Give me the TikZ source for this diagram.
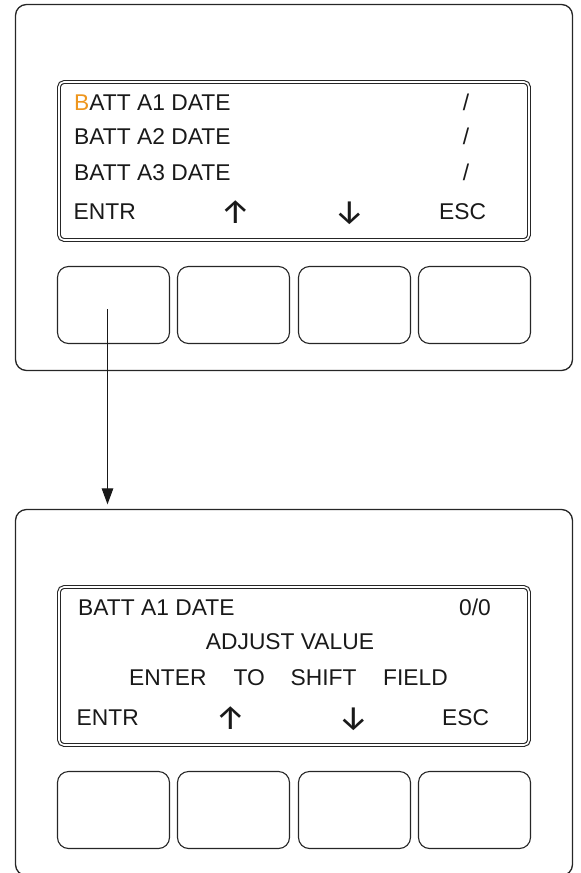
\documentclass[tikz,border=0pt]{standalone}
\usepackage{fontspec}
\setmainfont{Liberation Sans}
\newfontfamily\arrowfont{Fira Sans}
\usetikzlibrary{positioning,arrows.meta}
\definecolor{cursor}{RGB}{238,150,30}

\begin{document}
\begin{tikzpicture}[
  x=1pt, y=-1pt,
  font=\fontsize{22.8}{27}\selectfont,
  >={Triangle[length=16pt,width=11.5pt]},
  panel/.style={draw=black!85, line width=1.3pt, rounded corners=11pt, minimum width=557pt, minimum height=366pt, inner sep=0pt},
  lcd/.style={draw=black!85, line width=1.1pt, double, double distance=1.6pt, rounded corners=5pt, minimum width=470pt, minimum height=158pt, inner sep=0pt},
  softkey/.style={draw=black!85, line width=1.1pt, rounded corners=11pt, minimum width=112pt, minimum height=77pt, inner sep=0pt},
  lcdtext/.style={anchor=base west, inner sep=0pt, text=black!90},
  lcdglyph/.style={anchor=base, inner sep=0pt, text=black!90},
  lcdarrow/.style={anchor=base, inner sep=0pt, text=black!90, font=\arrowfont\fontsize{34}{36}\selectfont},
  presswire/.style={->, draw=black!90, line width=1.1pt, shorten >=4.5pt}
]
  \clip (0,0) rectangle (581,873);
  \node[panel] (toppanel) at (294,187.5) {};
  \node[lcd] (topscreen) at (294,161) {};
  \node[softkey] (topkeyA) at (113.5,305) {};
  \node[softkey] (topkeyB) at (233.5,305) {};
  \node[softkey] (topkeyC) at (354.5,305) {};
  \node[softkey] (topkeyD) at (474.5,305) {};
  \node[lcdtext] (toprowA) at (74,110) {\textcolor{cursor}{B}ATT A1 DATE};
  \node[lcdtext] (toprowB) at (74,144) {BATT A2 DATE};
  \node[lcdtext] (toprowC) at (74,180) {BATT A3 DATE};
  \node[lcdglyph] (topslashA) at (466,110) {/};
  \node[lcdglyph] (topslashB) at (466,144) {/};
  \node[lcdglyph] (topslashC) at (466,180) {/};
  \node[lcdtext] (topentr) at (73.5,219) {ENTR};
  \node[lcdarrow] (topup) at (236,223) {↑};
  \node[lcdarrow] (topdown) at (350,223) {↓};
  \node[lcdtext] (topesc) at (439,219) {ESC};

  \node[panel] (botpanel) at (294,692.5) {};
  \node[lcd] (botscreen) at (294,666) {};
  \node[softkey] (botkeyA) at (113.5,810) {};
  \node[softkey] (botkeyB) at (233.5,810) {};
  \node[softkey] (botkeyC) at (354.5,810) {};
  \node[softkey] (botkeyD) at (474.5,810) {};
  \node[lcdtext] (botrowA) at (78,615) {BATT A1 DATE};
  \node[lcdglyph, anchor=base east] (botvalue) at (491,615) {0/0};
  \node[lcdglyph] (botadjust) at (290,649) {ADJUST VALUE};
  \node[lcdtext] (botenter) at (129,685) {ENTER};
  \node[lcdtext] (botto) at (233.5,685) {TO};
  \node[lcdtext] (botshift) at (290.5,685) {SHIFT};
  \node[lcdtext] (botfield) at (383,685) {FIELD};
  \node[lcdtext] (botentr) at (76.5,725) {ENTR};
  \node[lcdarrow] (botup) at (231,729) {↑};
  \node[lcdarrow] (botdown) at (354,729) {↓};
  \node[lcdtext] (botesc) at (442,725) {ESC};

  \coordinate (pressA) at (107.5,309);
  \draw[presswire] (pressA) -- (pressA |- botpanel.north);
\end{tikzpicture}
\end{document}
